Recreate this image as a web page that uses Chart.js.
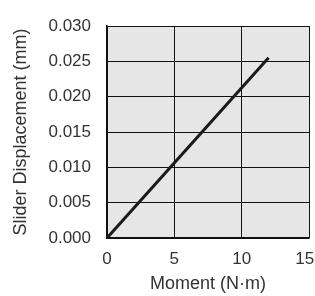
<!DOCTYPE html>
<html>
<head>
<meta charset="utf-8">
<script src="https://cdn.jsdelivr.net/npm/chart.js@4"></script>
<style>
  html, body { margin: 0; padding: 0; background: #fff; }
  #wrap { width: 315px; height: 296px; }
</style>
</head>
<body>
<div id="wrap"><canvas id="chart" width="315" height="296"></canvas></div>
<script>
  const moment = [0, 12];            // N·m
  const displacement = [0, 0.0255];  // mm
  const xTicks = [0, 5, 10, 15];
  const yTicks = [0, 0.005, 0.01, 0.015, 0.02, 0.025, 0.03];

  // fundo cinza da área do gráfico
  const plotBg = {
    id: 'plotBg',
    beforeDraw(chart) {
      const { ctx, chartArea: a } = chart;
      ctx.save();
      ctx.fillStyle = '#e6e6e6';
      ctx.fillRect(a.left, a.top, a.right - a.left, a.bottom - a.top);
      ctx.restore();
    }
  };

  const tickFont = { family: "'Liberation Sans', Arial, sans-serif", size: 17 };
  const titleFont = { family: "'Liberation Sans', Arial, sans-serif", size: 18 };
  const lastX = xTicks[xTicks.length - 1];

  new Chart(document.getElementById('chart'), {
    type: 'line',
    data: {
      datasets: [{
        data: moment.map((m, i) => ({ x: m, y: displacement[i] })),
        borderColor: '#1a1a1a',
        borderWidth: 3,
        pointRadius: 0,
        tension: 0
      }]
    },
    options: {
      responsive: false,
      animation: false,
      layout: { padding: { top: 26, right: 6, left: 0, bottom: 0 } },
      plugins: { legend: { display: false }, tooltip: { enabled: false } },
      scales: {
        x: {
          type: 'linear',
          min: 0, max: 15,
          afterBuildTicks: s => { s.ticks = xTicks.map(v => ({ value: v })); },
          afterFit: s => { s.height = 58; s.paddingLeft = 0; s.paddingRight = 0; },
          grid: { color: '#111', lineWidth: 1, drawTicks: false },
          border: { color: '#111', width: 1.5 },
          // espaço no fim do "15" pra não cortar na borda
          ticks: { font: tickFont, color: '#333', padding: 11, callback: v => v === lastX ? v + '\u2002' : String(v) },
          title: { display: true, text: 'Moment (N·m)', font: titleFont, color: '#333', padding: { top: 0, bottom: 1 } }
        },
        y: {
          min: 0, max: 0.03,
          afterBuildTicks: s => { s.ticks = yTicks.map(v => ({ value: v })); },
          afterFit: s => { s.width = 107; s.paddingTop = 0; s.paddingBottom = 0; },
          grid: { color: '#111', lineWidth: 1, drawTicks: false },
          border: { color: '#111', width: 1.5 },
          ticks: { font: tickFont, color: '#333', padding: 16, callback: v => v.toFixed(3) },
          title: { display: true, text: 'Slider Displacement (mm)', font: titleFont, color: '#333', padding: { top: 10, bottom: 0 } }
        }
      }
    },
    plugins: [plotBg]
  });
</script>
</body>
</html>
